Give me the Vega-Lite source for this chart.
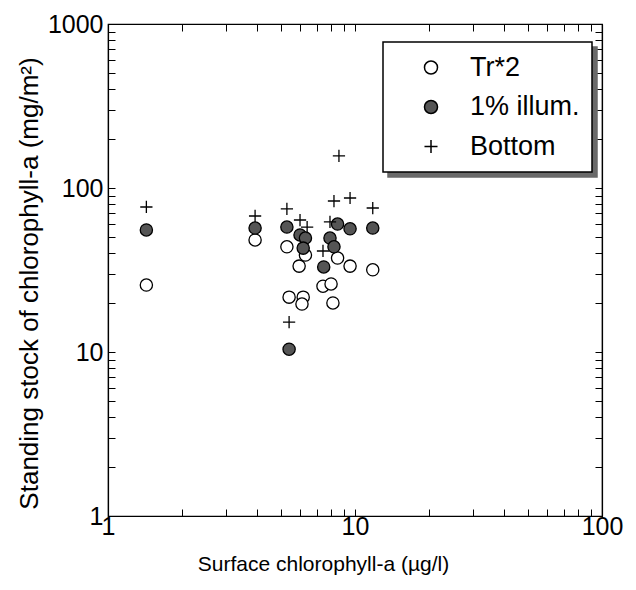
{
  "$schema": "https://vega.github.io/schema/vega-lite/v6.json",
  "width": 494,
  "height": 492,
  "autosize": "none",
  "padding": {"left": 108, "top": 24, "right": 34, "bottom": 74},
  "background": "white",
  "config": {
    "font": "Liberation Sans",
    "view": {"stroke": "black", "strokeWidth": 1.2},
    "axis": {"grid": false, "domainColor": "black", "domainWidth": 1.2, "tickColor": "black", "tickWidth": 1, "labelColor": "black", "titleColor": "black", "labelFont": "Liberation Sans", "titleFont": "Liberation Sans", "titleFontWeight": "normal", "labelFontSize": 25, "titleFontSize": 21},
    "legend": {"labelFont": "Liberation Sans", "labelFontSize": 27, "labelColor": "black", "padding": 12, "rowPadding": 11.5, "strokeWidth": 1.5, "orient": "none"}
  },
  "data": {"values": [
    {"x": 1.43, "y": 25.6, "series": "Tr*2"},
    {"x": 3.94, "y": 48.2, "series": "Tr*2"},
    {"x": 5.3, "y": 43.8, "series": "Tr*2"},
    {"x": 6.3, "y": 39, "series": "Tr*2"},
    {"x": 5.94, "y": 33.4, "series": "Tr*2"},
    {"x": 8.5, "y": 37.4, "series": "Tr*2"},
    {"x": 9.55, "y": 33.4, "series": "Tr*2"},
    {"x": 11.8, "y": 31.7, "series": "Tr*2"},
    {"x": 7.42, "y": 25.2, "series": "Tr*2"},
    {"x": 8.0, "y": 26, "series": "Tr*2"},
    {"x": 5.41, "y": 21.6, "series": "Tr*2"},
    {"x": 6.17, "y": 21.6, "series": "Tr*2"},
    {"x": 6.1, "y": 19.6, "series": "Tr*2"},
    {"x": 8.14, "y": 19.9, "series": "Tr*2"},
    {"x": 1.43, "y": 55.5, "series": "1% illum."},
    {"x": 3.94, "y": 57, "series": "1% illum."},
    {"x": 5.3, "y": 57.8, "series": "1% illum."},
    {"x": 5.99, "y": 51.7, "series": "1% illum."},
    {"x": 6.3, "y": 49.5, "series": "1% illum."},
    {"x": 6.17, "y": 43, "series": "1% illum."},
    {"x": 8.5, "y": 60.3, "series": "1% illum."},
    {"x": 9.55, "y": 56.4, "series": "1% illum."},
    {"x": 11.8, "y": 57, "series": "1% illum."},
    {"x": 7.92, "y": 49.5, "series": "1% illum."},
    {"x": 8.22, "y": 43.8, "series": "1% illum."},
    {"x": 7.47, "y": 33, "series": "1% illum."},
    {"x": 5.41, "y": 10.4, "series": "1% illum."},
    {"x": 1.43, "y": 76.6, "series": "Bottom"},
    {"x": 3.94, "y": 67.5, "series": "Bottom"},
    {"x": 8.61, "y": 156.8, "series": "Bottom"},
    {"x": 8.22, "y": 83.3, "series": "Bottom"},
    {"x": 9.55, "y": 86.9, "series": "Bottom"},
    {"x": 11.8, "y": 75.5, "series": "Bottom"},
    {"x": 5.3, "y": 74.5, "series": "Bottom"},
    {"x": 5.99, "y": 63.8, "series": "Bottom"},
    {"x": 6.4, "y": 57.8, "series": "Bottom"},
    {"x": 7.92, "y": 62.1, "series": "Bottom"},
    {"x": 7.42, "y": 41.3, "series": "Bottom"},
    {"x": 5.41, "y": 15.2, "series": "Bottom"}
  ]},
  "layer": [
    {
      "mark": {"type": "point", "opacity": 0},
      "encoding": {
        "x": {"field": "x", "type": "quantitative", "scale": {"type": "log", "domain": [1, 100]},
          "axis": {"orient": "top", "title": null, "values": [1,2,3,4,5,6,7,8,9,10,20,30,40,50,60,70,80,90,100], "labels": false, "tickSize": -7}},
        "y": {"field": "y", "type": "quantitative", "scale": {"type": "log", "domain": [1, 1000]},
          "axis": {"orient": "right", "title": null, "values": [1,2,3,4,5,6,7,8,9,10,20,30,40,50,60,70,80,90,100,200,300,400,500,600,700,800,900,1000], "labels": false, "tickSize": -7}},
        "color": {"field": "series", "type": "nominal", "scale": {"domain": ["Bottom", "Tr*2", "1% illum."], "range": ["#666666", "#666666", "#666666"]},
          "legend": {"title": null, "legendX": 280, "legendY": 23, "fillColor": "#6a6a6a", "strokeColor": "#6a6a6a", "labelExpr": "''", "symbolSize": 729, "symbolOffset": 157.5, "labelOffset": 0, "symbolOpacity": 0, "symbolStrokeWidth": 0}}
      }
    },
    {
      "mark": {"type": "point", "filled": true, "stroke": "black", "strokeWidth": 1.3, "opacity": 1, "size": 150},
      "encoding": {
        "x": {"field": "x", "type": "quantitative", "scale": {"type": "log", "domain": [1, 100]},
          "axis": {"orient": "bottom", "title": "Surface chlorophyll-a (µg/l)", "titleX": 215, "values": [1,2,3,4,5,6,7,8,9,10,20,30,40,50,60,70,80,90,100], "labelExpr": "datum.value == 1 || datum.value == 10 || datum.value == 100 ? format(datum.value, 'd') : ''", "tickSize": -7, "labelPadding": 5, "labelOverlap": false, "labelBound": false, "labelFlush": false, "titlePadding": 14}},
        "y": {"field": "y", "type": "quantitative", "scale": {"type": "log", "domain": [1, 1000]},
          "axis": {"orient": "left", "title": "Standing stock of chlorophyll-a (mg/m²)", "titleFontSize": 26, "titleY": 259, "values": [1,2,3,4,5,6,7,8,9,10,20,30,40,50,60,70,80,90,100,200,300,400,500,600,700,800,900,1000], "labelExpr": "datum.value == 1 || datum.value == 10 || datum.value == 100 || datum.value == 1000 ? format(datum.value, 'd') : ''", "tickSize": -7, "labelPadding": 12, "labelOverlap": false, "labelBound": false, "labelFlush": false, "titlePadding": 5}},
        "fill": {"field": "series", "type": "nominal", "scale": {"domain": ["Tr*2", "1% illum.", "Bottom"], "range": ["white", "#555555", "black"]},
          "legend": {"title": null, "legendX": 275, "legendY": 18, "fillColor": "white", "strokeColor": "black", "symbolSize": 170, "symbolOffset": 22.5, "labelOffset": 25.5}},
        "shape": {"field": "series", "type": "nominal", "scale": {"domain": ["Tr*2", "1% illum.", "Bottom"], "range": ["circle", "circle", "M-1,0L1,0M0,-1L0,1"]},
          "legend": {"title": null, "legendX": 275, "legendY": 18, "fillColor": "white", "strokeColor": "black", "symbolSize": 170, "symbolOffset": 22.5, "labelOffset": 25.5}}
      }
    }
  ],
  "resolve": {"axis": {"x": "independent", "y": "independent"}}
}
